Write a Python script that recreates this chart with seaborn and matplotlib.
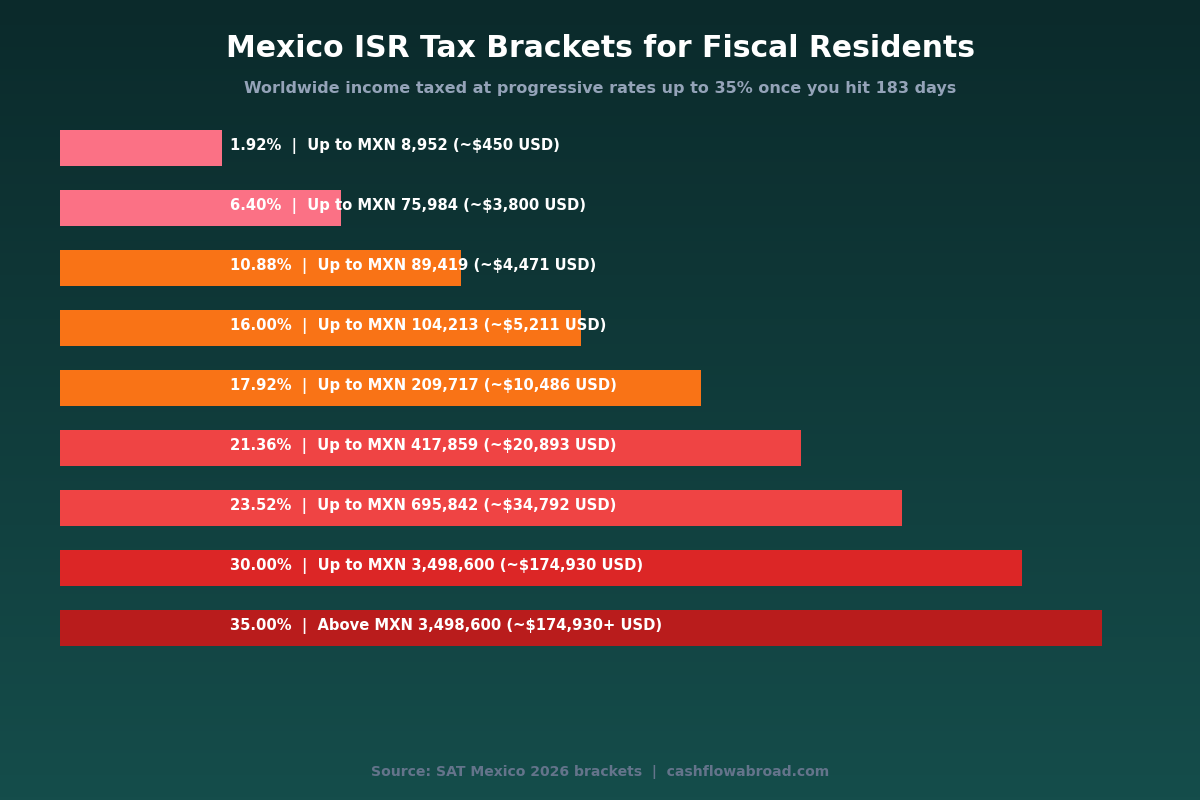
import numpy as np
import pandas as pd
import matplotlib
matplotlib.use("Agg")
import matplotlib.pyplot as plt
import seaborn as sns
from matplotlib.colors import LinearSegmentedColormap

rates = ["1.92%", "6.40%", "10.88%", "16.00%", "17.92%", "21.36%", "23.52%", "30.00%", "35.00%"]
thresholds = [
    "Up to MXN 8,952 (~$450 USD)",
    "Up to MXN 75,984 (~$3,800 USD)",
    "Up to MXN 89,419 (~$4,471 USD)",
    "Up to MXN 104,213 (~$5,211 USD)",
    "Up to MXN 209,717 (~$10,486 USD)",
    "Up to MXN 417,859 (~$20,893 USD)",
    "Up to MXN 695,842 (~$34,792 USD)",
    "Up to MXN 3,498,600 (~$174,930 USD)",
    "Above MXN 3,498,600 (~$174,930+ USD)",
]
bar_lengths = [8.1, 14, 20, 26, 32, 37, 42, 48, 52]
colors = ["#fb7185", "#fb7185", "#f97316", "#f97316", "#f97316",
          "#ef4444", "#ef4444", "#dc2626", "#b91c1c"]

df = pd.DataFrame({"bracket": rates, "length": bar_lengths})

sns.set_theme(style="white")
plt.rcParams['font.family'] = ['DejaVu Sans']

fig = plt.figure(figsize=(12, 8), dpi=100)

# gradient background
bg = fig.add_axes([0, 0, 1, 1], zorder=-10)
cmap = LinearSegmentedColormap.from_list("bg", ["#0b2a2b", "#154d4b"])
grad = np.linspace(0, 1, 256).reshape(-1, 1)
bg.imshow(grad, aspect="auto", cmap=cmap, extent=[0, 1, 0, 1], origin="upper")
bg.axis("off")

ax = fig.add_axes([0.05, 0.1775, 0.9, 0.675])
ax.patch.set_alpha(0)
sns.barplot(data=df, x="length", y="bracket", hue="bracket", palette=colors,
            orient="h", width=0.6, legend=False, ax=ax, saturation=1,
            linewidth=0, edgecolor="none")
ax.set_xlim(0, 53.9)
ax.set_ylim(8.5, -0.5)
ax.axis("off")

for i, (r, t) in enumerate(zip(rates, thresholds)):
    ax.text(8.48, i - 0.04, f"{r}  |  {t}", color="white", fontsize=10.6,
            fontweight="bold", va="center", ha="left")

fig.text(0.5, 0.939, "Mexico ISR Tax Brackets for Fiscal Residents", color="white",
         fontsize=21.5, fontweight="bold", ha="center", va="center")
fig.text(0.5, 0.89, "Worldwide income taxed at progressive rates up to 35% once you hit 183 days",
         color="#94a3b8", fontsize=11.5, fontweight="bold",
         ha="center", va="center")
fig.text(0.5, 0.035, "Source: SAT Mexico 2026 brackets  |  cashflowabroad.com",
         color="#64748b", fontsize=10.1, fontweight="bold", ha="center", va="center")

fig.savefig("out.png", dpi=100)
